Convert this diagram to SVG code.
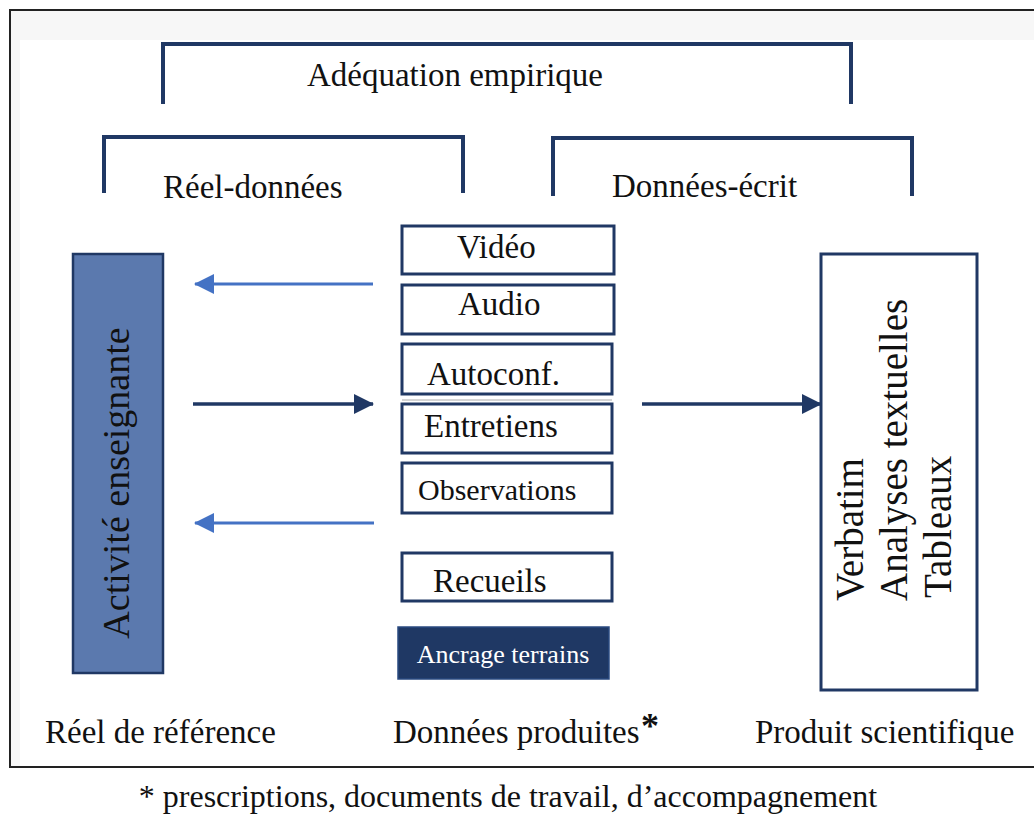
<svg xmlns="http://www.w3.org/2000/svg" width="1034" height="815" viewBox="0 0 1034 815">
<style>
.t{font-family:"Liberation Serif","Times New Roman",serif;fill:#111;}
.lbl{font-size:33px;}
.box{fill:#fff;stroke:#203864;stroke-width:3;}
.br{fill:none;stroke:#203864;stroke-width:4;stroke-linejoin:miter;}
.navy{stroke:#203864;stroke-width:3.5;fill:none;}
.blue{stroke:#4472c4;stroke-width:3;fill:none;}
</style>
<defs>
<marker id="ahNavy" markerWidth="20" markerHeight="20" refX="19" refY="10" orient="auto" markerUnits="userSpaceOnUse">
<path d="M0,0 L20,10 L0,20 Z" fill="#203864"/>
</marker>
<marker id="ahBlue" markerWidth="20" markerHeight="20" refX="19" refY="10" orient="auto" markerUnits="userSpaceOnUse">
<path d="M0,0 L20,10 L0,20 Z" fill="#4472c4"/>
</marker>
</defs>
<rect width="1034" height="815" fill="#fff"/>
<g id="frame">
<rect x="10" y="10" width="1040" height="757" fill="#f7f7f7" stroke="#222" stroke-width="2"/>
<rect x="20" y="40" width="1020" height="726" fill="#fff"/>
</g>
<g id="brackets">
<g id="adequation">
<path class="br" d="M163,104 V44 H851 V104"/>
<text class="t lbl" x="455" y="86" text-anchor="middle">Adéquation empirique</text>
</g>
<g id="reel-donnees">
<path class="br" d="M104,193 V137 H463 V193"/>
<text class="t lbl" x="163" y="198">Réel-données</text>
</g>
<g id="donnees-ecrit">
<path class="br" d="M553,196 V138 H912 V196"/>
<text class="t lbl" x="612" y="197">Données-écrit</text>
</g>
</g>
<g id="activite">
<rect x="73" y="254" width="90" height="419" fill="#5b79ae" stroke="#203864" stroke-width="2.5"/>
<text class="t" font-size="38" transform="translate(129,483) rotate(-90)" text-anchor="middle">Activité enseignante</text>
</g>
<g id="video"><rect class="box" x="402" y="226" width="212" height="48"/><text class="t lbl" x="457" y="258">Vidéo</text></g>
<g id="audio"><rect class="box" x="402" y="285" width="212" height="49"/><text class="t lbl" x="458" y="315">Audio</text></g>
<g id="autoconf"><rect class="box" x="402" y="344" width="210" height="50"/><text class="t lbl" x="427" y="385">Autoconf.</text></g>
<g id="entretiens"><line x1="402" y1="400" x2="612" y2="400" stroke="#aaa" stroke-width="1"/><rect class="box" x="402" y="404" width="210" height="49"/><text class="t lbl" x="424" y="437">Entretiens</text></g>
<g id="observations"><rect class="box" x="402" y="463" width="210" height="50"/><text class="t" font-size="30" x="418" y="500">Observations</text></g>
<g id="recueils"><rect class="box" x="402" y="553" width="210" height="48"/><text class="t lbl" x="433" y="592">Recueils</text></g>
<g id="ancrage"><rect x="398" y="627" width="211" height="52" fill="#1f3864" stroke="#2a4a80" stroke-width="1.5"/><text class="t" font-size="26" x="503" y="663" text-anchor="middle" fill="#fff" style="fill:#fff">Ancrage terrains</text></g>
<g id="produit">
<rect class="box" x="821" y="254" width="156" height="436"/>
<text class="t" font-size="39" transform="translate(863,601) rotate(-90)">Verbatim</text>
<text class="t" font-size="39" transform="translate(907,601) rotate(-90)">Analyses textuelles</text>
<text class="t" font-size="39" transform="translate(951,598) rotate(-90)">Tableaux</text>
</g>
<g id="connectors">
<line class="blue" x1="373" y1="284" x2="195" y2="284" marker-end="url(#ahBlue)"/>
<line class="navy" x1="193" y1="404" x2="373" y2="404" marker-end="url(#ahNavy)"/>
<line class="blue" x1="374" y1="523" x2="195" y2="523" marker-end="url(#ahBlue)"/>
<line class="navy" x1="642" y1="404" x2="821" y2="404" marker-end="url(#ahNavy)"/>
</g>
<g id="labels">
<text class="t lbl" x="45" y="743">Réel de référence</text>
<text class="t lbl" x="393" y="743">Données produites</text>
<text class="t" font-size="36" font-weight="bold" x="641" y="738">*</text>
<text class="t lbl" x="755" y="743">Produit scientifique</text>
<text class="t" font-size="32" x="508" y="807" text-anchor="middle">* prescriptions, documents de travail, d’accompagnement</text>
</g>
</svg>
